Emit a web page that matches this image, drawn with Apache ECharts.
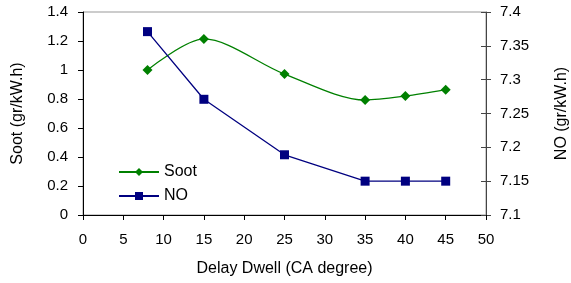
<!DOCTYPE html>
<html>
<head>
<meta charset="utf-8">
<script src="https://cdn.jsdelivr.net/npm/echarts@6/dist/echarts.min.js"></script>
<style>
  html, body { margin: 0; padding: 0; background: #fff; }
  #chart { width: 571px; height: 283px; }
</style>
</head>
<body>
<div id="chart"></div>
<script>
// delay dwell (CA degree)
const dwell = [8, 15, 25, 35, 40, 45]
const soot = [1.0, 1.214, 0.972, 0.793, 0.82, 0.864]
const no = [7.371, 7.271, 7.189, 7.15, 7.15, 7.15]

const xTicks = { min: 0, max: 50, interval: 5 }
const sootTicks = { min: 0, max: 1.4, interval: 0.2 }
const noTicks = { min: 7.1, max: 7.4, interval: 0.05 }

const font = 'Liberation Sans, Arial, sans-serif'
const chart = echarts.init(document.getElementById('chart'))

chart.setOption({
  animation: false,
  textStyle: { fontFamily: font },
  grid: {
    left: 83, right: 85, top: 12, bottom: 68,
    outerBoundsMode: 'none',
    show: true, borderColor: '#999', borderWidth: 1,
  },
  legend: {
    left: 113, top: 159, orient: 'vertical', itemGap: 8,
    itemWidth: 40, itemHeight: 10,
    textStyle: { fontFamily: font, fontSize: 16, color: '#000' },
    data: ['Soot', 'NO'],
  },
  xAxis: {
    type: 'value', ...xTicks,
    name: 'Delay Dwell (CA degree)', nameLocation: 'middle', nameGap: 46,
    nameTextStyle: { fontSize: 16, color: '#000' },
    axisLine: { lineStyle: { color: '#000' } },
    axisTick: { show: true, length: 5, lineStyle: { color: '#000' } },
    axisLabel: { fontSize: 15, color: '#000', margin: 17 },
    splitLine: { show: false },
  },
  yAxis: [
    {
      type: 'value', ...sootTicks,
      name: 'Soot (gr/kW.h)', nameLocation: 'middle', nameGap: 57,
      nameTextStyle: { fontSize: 16, color: '#000' },
      axisLine: { show: true, lineStyle: { color: '#000' } },
      axisTick: { show: true, length: 5, lineStyle: { color: '#000' } },
      axisLabel: { fontSize: 15, color: '#000', margin: 15,
        formatter: v => String(+v.toFixed(1)) },
      splitLine: { show: false },
    },
    {
      type: 'value', ...noTicks, position: 'right',
      name: 'NO (gr/kW.h)', nameLocation: 'middle', nameGap: 68, nameRotate: 90,
      nameTextStyle: { fontSize: 16, color: '#000' },
      axisLine: { show: true, lineStyle: { color: '#444' } },
      axisTick: { show: true, length: 5, lineStyle: { color: '#444' } },
      axisLabel: { fontSize: 15, color: '#000', margin: 14,
        formatter: v => String(+v.toFixed(2)) },
      splitLine: { show: false },
    },
    {
      // inner half of the crossing ticks on the right axis
      type: 'value', ...noTicks, position: 'right',
      axisLine: { show: false },
      axisTick: { show: true, inside: true, length: 5, lineStyle: { color: '#444' } },
      axisLabel: { show: false },
      splitLine: { show: false },
    },
  ],
  series: [
    {
      name: 'Soot', type: 'line', yAxisIndex: 0, smooth: 0.3,
      data: dwell.map((x, i) => [x, soot[i]]),
      symbol: 'diamond', symbolSize: 10,
      itemStyle: { color: '#008000' }, lineStyle: { color: '#008000', width: 1.3 },
    },
    {
      name: 'NO', type: 'line', yAxisIndex: 1,
      data: dwell.map((x, i) => [x, no[i]]),
      symbol: 'rect', symbolSize: 9,
      itemStyle: { color: '#000080' }, lineStyle: { color: '#000080', width: 1.3 },
    },
  ],
})
</script>
</body>
</html>
